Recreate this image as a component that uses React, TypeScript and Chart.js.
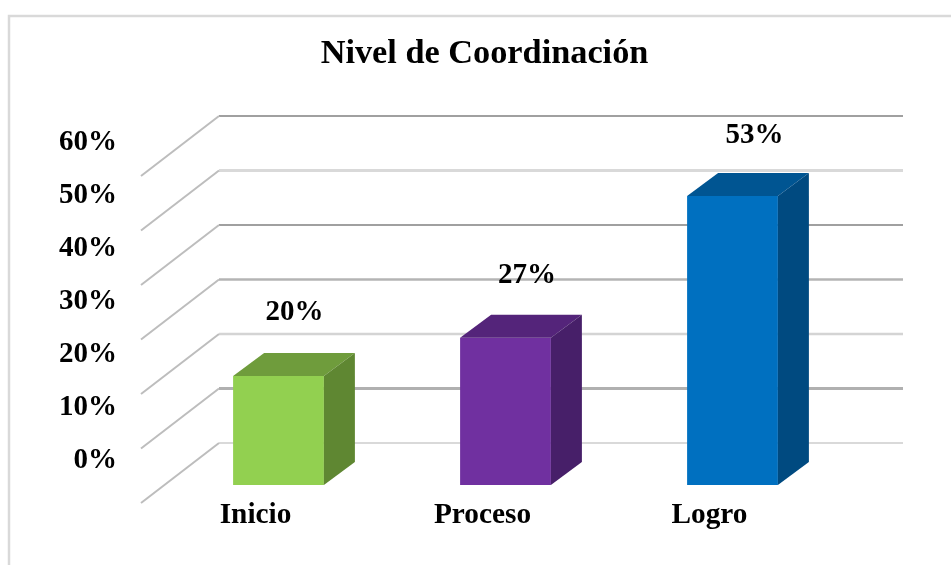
import React, { useEffect, useRef } from "react";
import { Chart, registerables } from "chart.js";

Chart.register(...registerables);

const categories = ["Inicio", "Proceso", "Logro"];
const values = [20, 27, 53];
const valueLabels = ["20%", "27%", "53%"];
const frontColors = ["#92d050", "#7030a0", "#0070c0"];
const topColors = ["#6f9c3c", "#54247a", "#005592"];
const sideColors = ["#5f8732", "#471f69", "#004a80"];
const tickValues = [0, 10, 20, 30, 40, 50, 60];
const gridColors = ["#d9d9d9", "#b0b0b0", "#d4d4d4", "#b4b4b4", "#a0a0a0", "#d9d9d9", "#a0a0a0"];
const gridWidths = [2, 3, 2.5, 2.5, 2, 3, 2];

const FONT = "'Liberation Serif', serif";

const depthPlugin = {
  id: "depth3d",
  beforeDatasetsDraw(chart: any) {
    const { ctx, scales } = chart;
    const y = scales.y;
    ctx.save();
    // outer frame
    ctx.strokeStyle = "#d9d9d9";
    ctx.lineWidth = 2.5;
    ctx.beginPath();
    ctx.moveTo(9, 565);
    ctx.lineTo(9, 16);
    ctx.lineTo(951, 16);
    ctx.stroke();
    // back wall and side wall lines
    tickValues.forEach((v, i) => {
      const py = y.getPixelForValue(v) - 42;
      ctx.strokeStyle = gridColors[i];
      ctx.lineWidth = gridWidths[i];
      ctx.beginPath();
      ctx.moveTo(903, py);
      ctx.lineTo(219, py);
      ctx.stroke();
      ctx.strokeStyle = "#bdbdbd";
      ctx.lineWidth = 2;
      ctx.beginPath();
      ctx.moveTo(219, py);
      ctx.lineTo(141, py + 60);
      ctx.stroke();
    });
    ctx.restore();
  },
  afterDatasetsDraw(chart: any) {
    const { ctx } = chart;
    const meta = chart.getDatasetMeta(0);
    const dx = 31;
    const dy = 23;
    const labelDx = [16, 21.5, 22];
    const labelDy = [63.5, 62.5, 61];
    ctx.save();
    meta.data.forEach((bar: any, i: number) => {
      const l = bar.x - bar.width / 2;
      const r = bar.x + bar.width / 2;
      const t = bar.y;
      const b = bar.base;
      ctx.fillStyle = topColors[i];
      ctx.beginPath();
      ctx.moveTo(l, t);
      ctx.lineTo(l + dx, t - dy);
      ctx.lineTo(r + dx, t - dy);
      ctx.lineTo(r, t);
      ctx.closePath();
      ctx.fill();
      ctx.fillStyle = sideColors[i];
      ctx.beginPath();
      ctx.moveTo(r, t);
      ctx.lineTo(r + dx, t - dy);
      ctx.lineTo(r + dx, b - dy);
      ctx.lineTo(r, b);
      ctx.closePath();
      ctx.fill();
      ctx.fillStyle = "#000000";
      ctx.font = `bold 29px ${FONT}`;
      ctx.textAlign = "center";
      ctx.textBaseline = "middle";
      ctx.fillText(valueLabels[i], bar.x + labelDx[i], t - labelDy[i]);
    });
    ctx.restore();
  },
};

export default function App() {
  const ref = useRef<HTMLCanvasElement | null>(null);

  useEffect(() => {
    const chart = new Chart(ref.current as HTMLCanvasElement, {
      type: "bar",
      data: {
        labels: categories,
        datasets: [
          {
            data: values,
            backgroundColor: frontColors,
            barPercentage: 0.4,
            categoryPercentage: 1,
            yAxisID: "y",
          },
        ],
      },
      options: {
        animation: false,
        responsive: false,
        layout: { padding: { left: 18, top: 0, right: 0, bottom: 0 } },
        plugins: {
          legend: { display: false },
          tooltip: { enabled: false },
          title: {
            display: true,
            text: "Nivel de Coordinación",
            color: "#000000",
            font: { family: FONT, size: 34.3, weight: "bold", lineHeight: 1.2 },
            padding: { top: 33.4, bottom: 25.4 },
          },
        },
        scales: {
          x: {
            grid: { display: false },
            border: { display: false },
            ticks: {
              color: "#000000",
              font: { family: FONT, size: 29.3, weight: "bold" },
              padding: 0,
              labelOffset: -23,
              maxRotation: 0,
              autoSkip: false,
            },
            afterFit(scale: any) {
              scale.height = 75;
            },
          },
          y: {
            display: false,
            position: "left",
            min: -0.917,
            max: 70.64,
          },
          yLabels: {
            position: "left",
            min: -5.47,
            max: 68.12,
            grid: { display: false },
            border: { display: false },
            afterBuildTicks(scale: any) {
              scale.ticks = tickValues.map((value) => ({ value }));
            },
            afterFit(scale: any) {
              scale.width = 147;
            },
            ticks: {
              color: "#000000",
              font: { family: FONT, size: 29, weight: "bold" },
              padding: 40,
              autoSkip: false,
              callback: (v: any) => `${v}%`,
            },
          },
          spacer: {
            position: "right",
            grid: { display: false },
            border: { display: false },
            ticks: { display: false },
            afterFit(scale: any) {
              scale.width = 105;
            },
          },
        },
      } as any,
      plugins: [depthPlugin],
    });
    return () => chart.destroy();
  }, []);

  return (
    <div style={{ position: "fixed", left: 0, top: 0, width: 951, height: 565, background: "#ffffff" }}>
      <canvas ref={ref} width={951} height={565} style={{ display: "block" }} />
    </div>
  );
}
